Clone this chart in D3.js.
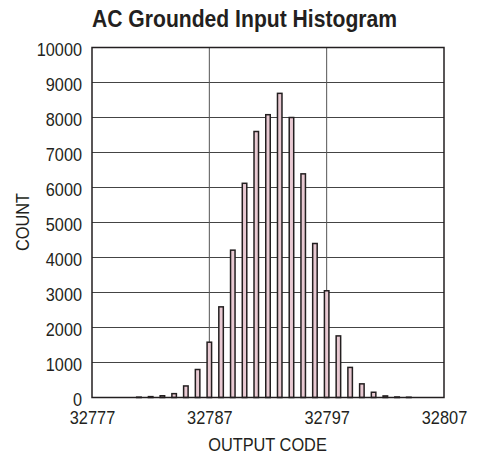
<!DOCTYPE html>
<html><head><meta charset="utf-8">
<script src="https://cdn.jsdelivr.net/npm/d3@7"></script>
<style>body{margin:0;background:#fff}</style>
</head><body>
<svg id="c" width="484" height="457"></svg>
<script>
const codes = [32781,32782,32783,32784,32785,32786,32787,32788,32789,32790,32791,32792,32793,32794,32795,32796,32797,32798,32799,32800,32801,32802,32803,32804];
const counts = [10,25,50,110,330,800,1580,2590,4210,6120,7600,8080,8690,8000,6390,4400,3050,1760,860,390,150,45,15,8];
const xTicks = [32777,32787,32797,32807];
const yTicks = [0,1000,2000,3000,4000,5000,6000,7000,8000,9000,10000];

const F = "'Liberation Sans','Arial',sans-serif";
const INK = "#231f20";
const svg = d3.select("#c");
const L=92, R=444, T=47.5, B=397.5;
const x = d3.scaleLinear().domain([32777,32807]).range([L,R]);
const y = d3.scaleLinear().domain([0,10000]).range([B,T]);

// condense text horizontally (reference uses a condensed face)
function narrow(sel, f){
  sel.each(function(){
    const w = this.getComputedTextLength();
    d3.select(this).attr("textLength", w*f).attr("lengthAdjust","spacingAndGlyphs");
  });
}

const g = svg.append("g");
g.selectAll(".hg").data(yTicks.slice(1,-1)).join("line")
 .attr("x1",L).attr("x2",R).attr("y1",d=>y(d)).attr("y2",d=>y(d))
 .attr("stroke","#444").attr("stroke-width",1);
g.selectAll(".vg").data(xTicks.slice(1,-1)).join("line")
 .attr("y1",T).attr("y2",B).attr("x1",d=>x(d)).attr("x2",d=>x(d))
 .attr("stroke","#555").attr("stroke-width",1);

const bw = 4.5;
g.selectAll(".bar").data(codes.map((c,i)=>({c,v:counts[i]}))).join("rect")
 .attr("x",d=>x(d.c)-bw/2).attr("width",bw)
 .attr("y",d=>y(d.v)).attr("height",d=>B-y(d.v))
 .attr("fill","#e8c9d2").attr("stroke",INK).attr("stroke-width",1.5);

g.append("rect").attr("x",L).attr("y",T).attr("width",R-L).attr("height",B-T)
 .attr("fill","none").attr("stroke",INK).attr("stroke-width",1.5);

const yAxis = d3.axisLeft(y).tickValues(yTicks).tickSize(0).tickPadding(10).tickFormat(d3.format("d"));
const ya = svg.append("g").attr("transform",`translate(${L},0)`).call(yAxis);
ya.select(".domain").remove();
ya.selectAll("text").attr("font-family",F).attr("font-size",18.5).attr("fill",INK).attr("dy","0.45em");
narrow(ya.selectAll("text"),0.88);

const xAxis = d3.axisBottom(x).tickValues(xTicks).tickSize(0).tickPadding(0).tickFormat(d3.format("d"));
const xa = svg.append("g").attr("transform",`translate(0,${B})`).call(xAxis);
xa.select(".domain").remove();
xa.selectAll("text").attr("font-family",F).attr("font-size",19).attr("fill",INK).attr("dy",null).attr("y",26.5);
narrow(xa.selectAll("text"),0.86);

const xl = svg.append("text").attr("x",267.5).attr("y",451).attr("text-anchor","middle")
 .attr("font-family",F).attr("font-size",19).attr("fill",INK).text("OUTPUT CODE");
narrow(xl,0.86);
const yl = svg.append("text").attr("transform","translate(28.5,222) rotate(-90)").attr("text-anchor","middle")
 .attr("font-family",F).attr("font-size",19).attr("fill",INK).text("COUNT");
narrow(yl,0.86);
const tl = svg.append("text").attr("x",244.5).attr("y",26.7).attr("text-anchor","middle")
 .attr("font-family",F).attr("font-size",24).attr("font-weight","bold").attr("fill",INK).text("AC Grounded Input Histogram");
narrow(tl,0.88);
</script>
</body></html>
